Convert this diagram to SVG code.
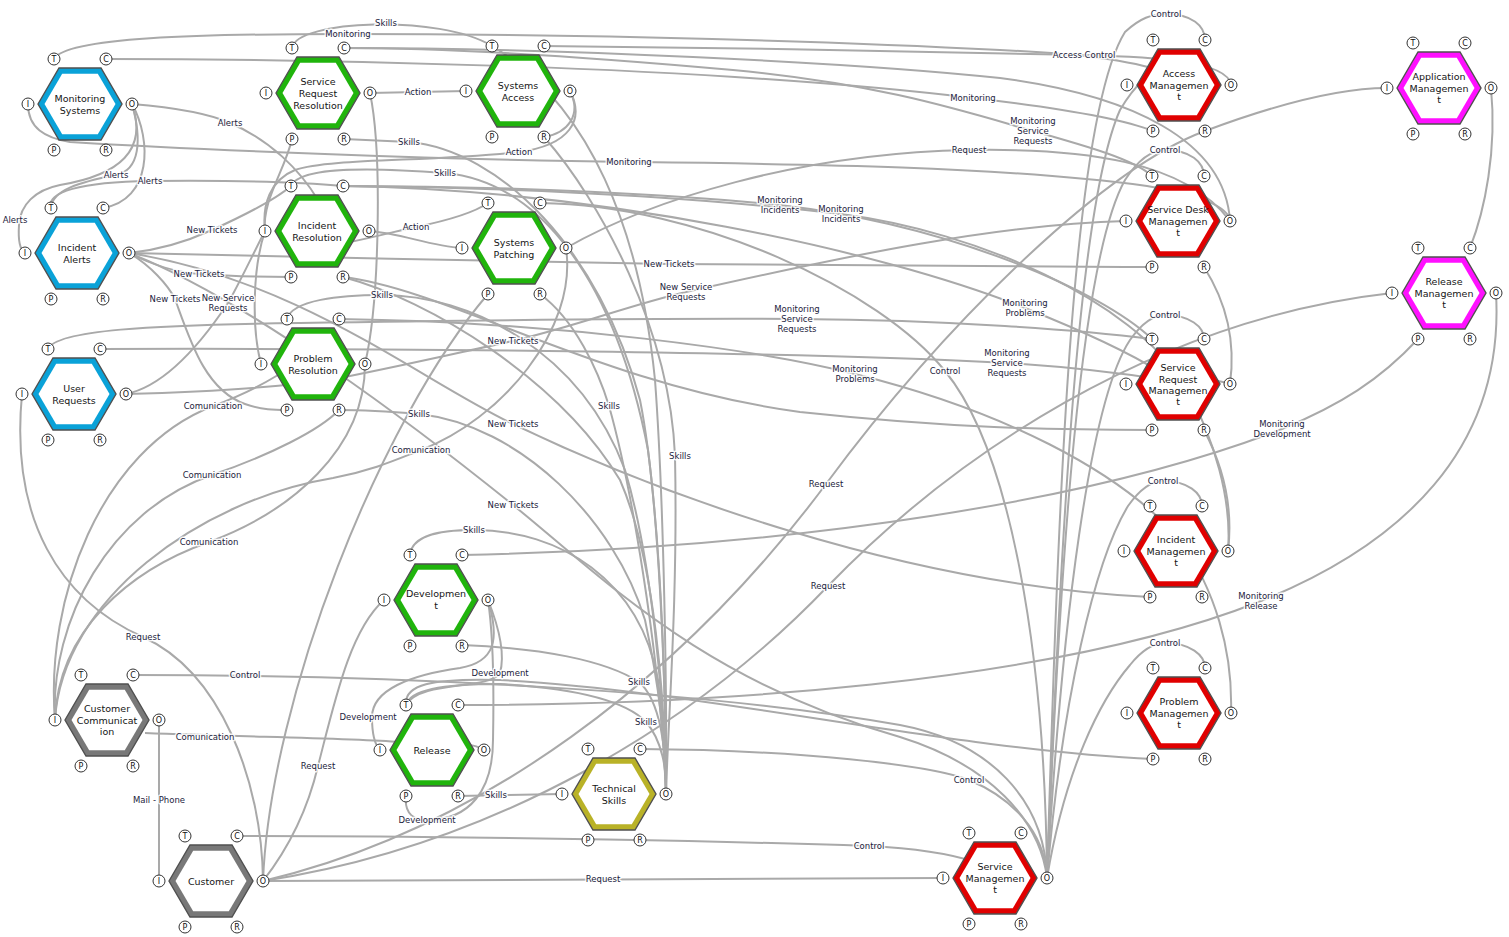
<svg xmlns="http://www.w3.org/2000/svg" xmlns:xlink="http://www.w3.org/1999/xlink" width="1509" height="937" viewBox="0 0 1509 937">
<style>
.e{fill:none;stroke:#a9a9a9;stroke-width:2}
.l{font-family:"DejaVu Sans",sans-serif;font-size:8.5px;fill:#1c1c3c;text-anchor:middle;stroke:#fff;stroke-width:3;stroke-opacity:0.85;paint-order:stroke;stroke-linejoin:round}
.t{font-family:"DejaVu Sans",sans-serif;font-size:9.5px;fill:#151515;text-anchor:middle}
.pc{fill:#fff;stroke:#333;stroke-width:1}
.pt{font-family:"DejaVu Sans",sans-serif;font-size:8px;fill:#111;text-anchor:middle}
.ho{stroke:#505050;stroke-width:1.4}
</style>
<defs>
<polygon id="hexo" points="-42,0 -21,-36 21,-36 42,0 21,36 -21,36"/>
<polygon id="hexi" points="-35.5,0 -17.8,-30.2 17.8,-30.2 35.5,0 17.8,30.2 -17.8,30.2"/>
<g id="ports">
<circle class="pc" cx="-26" cy="-45" r="6"/><text class="pt" x="-26" y="-42">T</text>
<circle class="pc" cx="26" cy="-45" r="6"/><text class="pt" x="26" y="-42">C</text>
<circle class="pc" cx="-52" cy="0" r="6"/><text class="pt" x="-52" y="3">I</text>
<circle class="pc" cx="52" cy="0" r="6"/><text class="pt" x="52" y="3">O</text>
<circle class="pc" cx="-26" cy="46" r="6"/><text class="pt" x="-26" y="49">P</text>
<circle class="pc" cx="26" cy="46" r="6"/><text class="pt" x="26" y="49">R</text>
</g>
</defs>
<rect width="1509" height="937" fill="#fff"/>
<g id="connectors">
<path class="e" d="M292,48 C296,20 440,14 492,46 C590,105 640,230 655,380 C664,500 667,700 666,794"/>
<path class="e" d="M54,59 C66,37 200,34 348,34 C600,34 850,42 1000,50 C1080,54 1130,60 1165,72"/>
<path class="e" d="M544,46 C700,47 950,52 1084,55 C1150,57 1228,60 1231,85"/>
<path class="e" d="M344,48 C550,48 850,62 1000,78 C1130,95 1225,140 1230,221"/>
<path class="e" d="M106,59 C300,59 700,65 973,98 C1060,108 1120,118 1153,131"/>
<path class="e" d="M344,48 C460,48 600,58 733,70 C880,84 960,110 1033,131 C1090,147 1135,160 1152,176"/>
<path class="e" d="M28,104 C28,128 45,138 70,142 C200,150 450,160 629,162 C800,164 1000,166 1147,186 C1195,194 1228,205 1230,221"/>
<path class="e" d="M566,248 C650,200 800,153 969,150 C1080,148 1185,160 1230,221"/>
<path class="e" d="M1047,878 C1058,520 1070,120 1125,32 C1140,18 1152,14 1166,14 C1192,14 1205,26 1205,40"/>
<path class="e" d="M1047,878 C1060,560 1080,260 1125,180 C1138,160 1152,150 1165,150 C1190,150 1204,162 1204,176"/>
<path class="e" d="M1047,878 C1062,620 1090,400 1130,340 C1142,323 1153,315 1165,315 C1190,315 1204,327 1204,339"/>
<path class="e" d="M1047,878 C1062,700 1095,560 1128,506 C1140,489 1151,481 1163,481 C1188,481 1202,493 1202,506"/>
<path class="e" d="M1047,878 C1065,770 1100,700 1130,665 C1142,650 1154,643 1165,643 C1190,643 1205,655 1205,668"/>
<path class="e" d="M1047,878 C1062,500 1080,200 1120,110 C1135,85 1150,70 1165,72"/>
<path class="e" d="M640,749 C800,750 930,765 969,780 C1010,797 1045,830 1047,878"/>
<path class="e" d="M237,836 C500,836 750,842 869,846 C910,848 945,852 975,862"/>
<path class="e" d="M263,881 L943,878"/>
<path class="e" d="M133,675 C400,675 700,690 900,725 C990,742 1045,800 1047,878"/>
<path class="e" d="M145,733 C250,737 350,738 400,742 C440,745 470,740 484,750"/>
<path class="e" d="M159,720 L159,881"/>
<path class="e" d="M22,394 C10,520 60,600 143,637 C220,672 262,780 263,881"/>
<path class="e" d="M263,881 C295,840 310,800 318,766 C335,700 350,630 384,600"/>
<path class="e" d="M263,881 C270,700 380,420 488,294"/>
<path class="e" d="M263,881 C480,830 680,680 826,484 C940,330 1100,170 1205,131 C1280,103 1340,88 1387,88"/>
<path class="e" d="M263,881 C500,845 700,720 828,586 C950,460 1150,320 1392,293"/>
<path class="e" d="M1496,293 C1505,450 1400,545 1261,601 C1050,685 700,705 458,705"/>
<path class="e" d="M1418,339 C1380,380 1340,405 1282,429 C1100,500 800,548 462,555"/>
<path class="e" d="M1491,88 C1497,150 1485,210 1470,248"/>
<path class="e" d="M458,796 L562,794"/>
<path class="e" d="M406,796 C404,815 415,820 427,820 C470,820 493,790 493,740 C494,690 494,640 488,600"/>
<path class="e" d="M488,600 C500,640 495,662 460,668 C410,675 372,690 372,717 C372,735 375,745 380,750"/>
<path class="e" d="M488,600 C500,630 505,655 500,673 C490,690 420,680 406,705"/>
<path class="e" d="M462,645 C540,648 605,660 639,682 C660,700 667,750 666,794"/>
<path class="e" d="M406,705 C410,690 440,684 500,684 C570,688 625,700 646,722 C662,740 667,770 666,794"/>
<path class="e" d="M406,705 C404,685 430,678 500,680 C700,690 950,750 1153,759"/>
<path class="e" d="M410,555 C412,535 440,530 474,530 C560,530 640,580 658,680 C664,730 666,760 666,794"/>
<path class="e" d="M544,137 C600,200 670,330 675,456 C678,600 668,720 666,794"/>
<path class="e" d="M540,294 C575,320 598,370 609,406 C630,480 660,650 666,794"/>
<path class="e" d="M344,139 C370,140 390,141 409,142 C500,150 600,250 640,400 C660,500 666,700 666,794"/>
<path class="e" d="M291,186 C300,165 380,168 445,173 C540,182 615,280 648,450 C662,560 666,700 666,794"/>
<path class="e" d="M287,319 C292,300 340,295 382,295 C470,295 580,350 625,470 C652,560 664,700 666,794"/>
<path class="e" d="M339,410 C370,410 395,412 419,414 C520,425 615,520 645,620 C660,690 665,740 666,794"/>
<path class="e" d="M343,277 C430,300 560,380 620,480 C655,560 665,700 666,794"/>
<path class="e" d="M370,93 L466,91"/>
<path class="e" d="M570,91 C585,120 570,145 519,152 C430,162 330,158 295,170 C270,180 262,205 265,231"/>
<path class="e" d="M570,91 C582,115 568,133 544,137"/>
<path class="e" d="M350,242 C380,236 400,230 416,227 C450,220 475,212 488,203"/>
<path class="e" d="M369,231 C400,233 430,246 462,248"/>
<path class="e" d="M132,104 C180,108 210,114 230,123 C270,140 300,170 318,200"/>
<path class="e" d="M132,104 C142,140 140,170 116,175 C80,182 52,190 51,208"/>
<path class="e" d="M132,104 C152,140 152,200 103,208"/>
<path class="e" d="M132,104 C148,150 120,175 60,185 C35,190 20,205 19,225 C18,240 20,250 25,253"/>
<path class="e" d="M51,208 C46,192 80,182 150,181 C250,180 300,182 343,186"/>
<path class="e" d="M343,186 C520,186 680,195 780,205 C950,225 1100,290 1152,339"/>
<path class="e" d="M343,186 C560,188 720,200 841,214 C980,232 1130,300 1185,385 C1215,440 1232,500 1228,551"/>
<path class="e" d="M343,186 C600,190 880,250 1025,308 C1080,330 1125,350 1160,372 C1190,380 1215,378 1230,384"/>
<path class="e" d="M339,319 C560,322 760,350 855,374 C1000,410 1120,470 1180,540 C1215,590 1233,650 1231,713"/>
<path class="e" d="M48,349 C56,330 150,325 300,323 C500,320 650,318 797,319 C950,320 1080,330 1152,339"/>
<path class="e" d="M100,349 C400,348 800,352 1007,363 C1070,367 1120,373 1165,380"/>
<path class="e" d="M129,253 C160,250 190,240 212,230 C245,215 275,200 291,186"/>
<path class="e" d="M129,253 C155,266 175,272 199,274 C240,277 270,277 291,277"/>
<path class="e" d="M129,253 C150,265 168,285 175,299 C190,340 205,390 245,404 C262,410 275,410 287,410"/>
<path class="e" d="M129,253 C300,256 500,262 669,264 C850,266 1000,267 1152,267"/>
<path class="e" d="M129,253 C300,280 420,380 513,424 C650,490 900,585 1150,597"/>
<path class="e" d="M129,253 C250,300 420,430 513,505 C600,575 700,680 900,737 C990,765 1040,820 1047,878"/>
<path class="e" d="M126,394 C200,392 280,388 340,378 C420,362 470,350 513,341 C580,325 630,305 686,292 C850,255 1000,224 1126,221"/>
<path class="e" d="M126,394 C170,385 210,330 228,303 C240,282 254,252 265,231"/>
<path class="e" d="M343,277 C450,290 600,385 800,412 C950,428 1050,430 1152,430"/>
<path class="e" d="M292,139 C285,170 262,200 265,231"/>
<path class="e" d="M265,231 C252,270 252,330 261,364"/>
<path class="e" d="M370,93 C382,150 380,300 365,364"/>
<path class="e" d="M55,720 C45,600 100,450 213,406 C240,396 260,386 278,375"/>
<path class="e" d="M55,720 C50,620 110,510 212,475 C270,455 320,430 339,410"/>
<path class="e" d="M55,720 C58,630 130,570 209,542 C290,512 365,450 365,364"/>
<path class="e" d="M55,720 C62,600 200,500 333,478 C375,470 400,458 421,450 C500,420 578,330 566,248"/>
<path class="e" d="M540,203 C700,205 880,290 945,371 C1010,450 1045,650 1047,878"/>
<path class="e" d="M1204,267 C1225,300 1236,340 1230,384"/>
<path class="e" d="M1204,430 C1225,470 1233,510 1228,551"/>
<g id="labels">
<text class="l" x="386" y="26">Skills</text>
<text class="l" x="348" y="37">Monitoring</text>
<text class="l" x="1084" y="58">Access Control</text>
<text class="l" x="1166" y="17">Control</text>
<text class="l" x="418" y="95">Action</text>
<text class="l" x="230" y="126">Alerts</text>
<text class="l" x="973" y="101">Monitoring</text>
<text class="l" x="1033" y="124">Monitoring<tspan x="1033" dy="10">Service</tspan><tspan x="1033" dy="10">Requests</tspan></text>
<text class="l" x="409" y="145">Skills</text>
<text class="l" x="519" y="155">Action</text>
<text class="l" x="969" y="153">Request</text>
<text class="l" x="1165" y="153">Control</text>
<text class="l" x="629" y="165">Monitoring</text>
<text class="l" x="445" y="176">Skills</text>
<text class="l" x="116" y="178">Alerts</text>
<text class="l" x="150" y="184">Alerts</text>
<text class="l" x="780" y="203">Monitoring<tspan x="780" dy="10">Incidents</tspan></text>
<text class="l" x="841" y="212">Monitoring<tspan x="841" dy="10">Incidents</tspan></text>
<text class="l" x="15" y="223">Alerts</text>
<text class="l" x="212" y="233">New Tickets</text>
<text class="l" x="416" y="230">Action</text>
<text class="l" x="669" y="267">New Tickets</text>
<text class="l" x="199" y="277">New Tickets</text>
<text class="l" x="686" y="290">New Service<tspan x="686" dy="10">Requests</tspan></text>
<text class="l" x="382" y="298">Skills</text>
<text class="l" x="175" y="302">New Tickets</text>
<text class="l" x="228" y="301">New Service<tspan x="228" dy="10">Requests</tspan></text>
<text class="l" x="1025" y="306">Monitoring<tspan x="1025" dy="10">Problems</tspan></text>
<text class="l" x="1165" y="318">Control</text>
<text class="l" x="797" y="312">Monitoring<tspan x="797" dy="10">Service</tspan><tspan x="797" dy="10">Requests</tspan></text>
<text class="l" x="513" y="344">New Tickets</text>
<text class="l" x="1007" y="356">Monitoring<tspan x="1007" dy="10">Service</tspan><tspan x="1007" dy="10">Requests</tspan></text>
<text class="l" x="855" y="372">Monitoring<tspan x="855" dy="10">Problems</tspan></text>
<text class="l" x="945" y="374">Control</text>
<text class="l" x="213" y="409">Comunication</text>
<text class="l" x="419" y="417">Skills</text>
<text class="l" x="609" y="409">Skills</text>
<text class="l" x="513" y="427">New Tickets</text>
<text class="l" x="1282" y="427">Monitoring<tspan x="1282" dy="10">Development</tspan></text>
<text class="l" x="421" y="453">Comunication</text>
<text class="l" x="680" y="459">Skills</text>
<text class="l" x="212" y="478">Comunication</text>
<text class="l" x="1163" y="484">Control</text>
<text class="l" x="826" y="487">Request</text>
<text class="l" x="513" y="508">New Tickets</text>
<text class="l" x="474" y="533">Skills</text>
<text class="l" x="209" y="545">Comunication</text>
<text class="l" x="828" y="589">Request</text>
<text class="l" x="1261" y="599">Monitoring<tspan x="1261" dy="10">Release</tspan></text>
<text class="l" x="143" y="640">Request</text>
<text class="l" x="1165" y="646">Control</text>
<text class="l" x="245" y="678">Control</text>
<text class="l" x="500" y="676">Development</text>
<text class="l" x="639" y="685">Skills</text>
<text class="l" x="368" y="720">Development</text>
<text class="l" x="646" y="725">Skills</text>
<text class="l" x="205" y="740">Comunication</text>
<text class="l" x="318" y="769">Request</text>
<text class="l" x="969" y="783">Control</text>
<text class="l" x="496" y="798">Skills</text>
<text class="l" x="159" y="803">Mail - Phone</text>
<text class="l" x="427" y="823">Development</text>
<text class="l" x="869" y="849">Control</text>
<text class="l" x="603" y="882">Request</text>
</g>
</g>
<g id="n-monitoring-systems" transform="translate(80,104)"><use xlink:href="#hexo" class="ho" fill="#0aa2d8"/><use xlink:href="#hexi" fill="#fff"/><use xlink:href="#ports"/><text class="t" y="-2.5">Monitoring</text><text class="t" y="9.5">Systems</text></g>
<g id="n-incident-alerts" transform="translate(77,253)"><use xlink:href="#hexo" class="ho" fill="#0aa2d8"/><use xlink:href="#hexi" fill="#fff"/><use xlink:href="#ports"/><text class="t" y="-2.5">Incident</text><text class="t" y="9.5">Alerts</text></g>
<g id="n-user-requests" transform="translate(74,394)"><use xlink:href="#hexo" class="ho" fill="#0aa2d8"/><use xlink:href="#hexi" fill="#fff"/><use xlink:href="#ports"/><text class="t" y="-2.5">User</text><text class="t" y="9.5">Requests</text></g>
<g id="n-service-request-resolution" transform="translate(318,93)"><use xlink:href="#hexo" class="ho" fill="#20b40c"/><use xlink:href="#hexi" fill="#fff"/><use xlink:href="#ports"/><text class="t" y="-8.5">Service</text><text class="t" y="3.5">Request</text><text class="t" y="15.5">Resolution</text></g>
<g id="n-systems-access" transform="translate(518,91)"><use xlink:href="#hexo" class="ho" fill="#20b40c"/><use xlink:href="#hexi" fill="#fff"/><use xlink:href="#ports"/><text class="t" y="-2.5">Systems</text><text class="t" y="9.5">Access</text></g>
<g id="n-incident-resolution" transform="translate(317,231)"><use xlink:href="#hexo" class="ho" fill="#20b40c"/><use xlink:href="#hexi" fill="#fff"/><use xlink:href="#ports"/><text class="t" y="-2.5">Incident</text><text class="t" y="9.5">Resolution</text></g>
<g id="n-systems-patching" transform="translate(514,248)"><use xlink:href="#hexo" class="ho" fill="#20b40c"/><use xlink:href="#hexi" fill="#fff"/><use xlink:href="#ports"/><text class="t" y="-2.5">Systems</text><text class="t" y="9.5">Patching</text></g>
<g id="n-problem-resolution" transform="translate(313,364)"><use xlink:href="#hexo" class="ho" fill="#20b40c"/><use xlink:href="#hexi" fill="#fff"/><use xlink:href="#ports"/><text class="t" y="-2.5">Problem</text><text class="t" y="9.5">Resolution</text></g>
<g id="n-development" transform="translate(436,600)"><use xlink:href="#hexo" class="ho" fill="#20b40c"/><use xlink:href="#hexi" fill="#fff"/><use xlink:href="#ports"/><text class="t" y="-3.5">Developmen</text><text class="t" y="8.5">t</text></g>
<g id="n-release" transform="translate(432,750)"><use xlink:href="#hexo" class="ho" fill="#20b40c"/><use xlink:href="#hexi" fill="#fff"/><use xlink:href="#ports"/><text class="t" y="3.5">Release</text></g>
<g id="n-technical-skills" transform="translate(614,794)"><use xlink:href="#hexo" class="ho" fill="#b9b227"/><use xlink:href="#hexi" fill="#fff"/><use xlink:href="#ports"/><text class="t" y="-2.5">Technical</text><text class="t" y="9.5">Skills</text></g>
<g id="n-customer-communication" transform="translate(107,720)"><use xlink:href="#hexo" class="ho" fill="#787878"/><use xlink:href="#hexi" fill="#fff"/><use xlink:href="#ports"/><text class="t" y="-8.5">Customer</text><text class="t" y="3.5">Communicat</text><text class="t" y="14.5">ion</text></g>
<g id="n-customer" transform="translate(211,881)"><use xlink:href="#hexo" class="ho" fill="#787878"/><use xlink:href="#hexi" fill="#fff"/><use xlink:href="#ports"/><text class="t" y="3.5">Customer</text></g>
<g id="n-access-management" transform="translate(1179,85)"><use xlink:href="#hexo" class="ho" fill="#e00000"/><use xlink:href="#hexi" fill="#fff"/><use xlink:href="#ports"/><text class="t" y="-8.5">Access</text><text class="t" y="3.5">Managemen</text><text class="t" y="14.5">t</text></g>
<g id="n-service-desk-management" transform="translate(1178,221)"><use xlink:href="#hexo" class="ho" fill="#e00000"/><use xlink:href="#hexi" fill="#fff"/><use xlink:href="#ports"/><text class="t" y="-8.5">Service Desk</text><text class="t" y="3.5">Managemen</text><text class="t" y="14.5">t</text></g>
<g id="n-service-request-management" transform="translate(1178,384)"><use xlink:href="#hexo" class="ho" fill="#e00000"/><use xlink:href="#hexi" fill="#fff"/><use xlink:href="#ports"/><text class="t" y="-13.5">Service</text><text class="t" y="-1.5">Request</text><text class="t" y="9.5">Managemen</text><text class="t" y="20.5">t</text></g>
<g id="n-incident-management" transform="translate(1176,551)"><use xlink:href="#hexo" class="ho" fill="#e00000"/><use xlink:href="#hexi" fill="#fff"/><use xlink:href="#ports"/><text class="t" y="-8.5">Incident</text><text class="t" y="3.5">Managemen</text><text class="t" y="14.5">t</text></g>
<g id="n-problem-management" transform="translate(1179,713)"><use xlink:href="#hexo" class="ho" fill="#e00000"/><use xlink:href="#hexi" fill="#fff"/><use xlink:href="#ports"/><text class="t" y="-8.5">Problem</text><text class="t" y="3.5">Managemen</text><text class="t" y="14.5">t</text></g>
<g id="n-service-management" transform="translate(995,878)"><use xlink:href="#hexo" class="ho" fill="#e00000"/><use xlink:href="#hexi" fill="#fff"/><use xlink:href="#ports"/><text class="t" y="-8.5">Service</text><text class="t" y="3.5">Managemen</text><text class="t" y="14.5">t</text></g>
<g id="n-application-management" transform="translate(1439,88)"><use xlink:href="#hexo" class="ho" fill="#ff10ff"/><use xlink:href="#hexi" fill="#fff"/><use xlink:href="#ports"/><text class="t" y="-8.5">Application</text><text class="t" y="3.5">Managemen</text><text class="t" y="14.5">t</text></g>
<g id="n-release-management" transform="translate(1444,293)"><use xlink:href="#hexo" class="ho" fill="#ff10ff"/><use xlink:href="#hexi" fill="#fff"/><use xlink:href="#ports"/><text class="t" y="-8.5">Release</text><text class="t" y="3.5">Managemen</text><text class="t" y="14.5">t</text></g>
</svg>
